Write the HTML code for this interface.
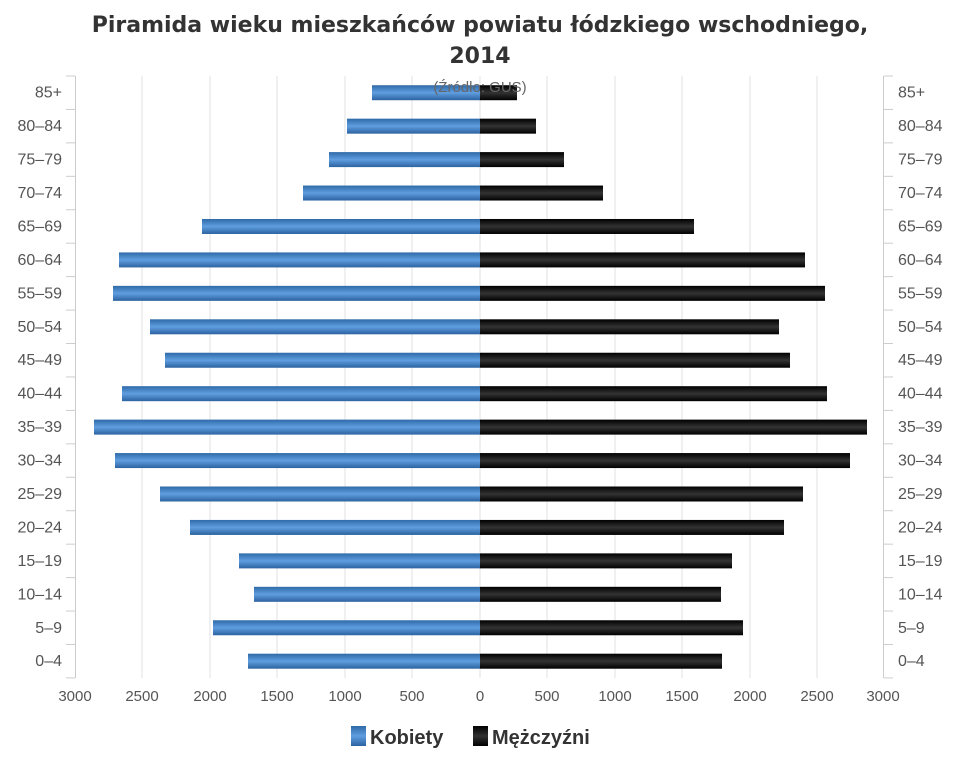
<!DOCTYPE html>
<html><head><meta charset="utf-8"><style>
body{margin:0;background:#fff}
svg{display:block;font-family:"Liberation Sans","DejaVu Sans",sans-serif}
</style></head><body>
<svg width="960" height="768" viewBox="0 0 960 768" xmlns="http://www.w3.org/2000/svg">
<defs>
<linearGradient id="b" x1="0" y1="0" x2="0" y2="1"><stop offset="0" stop-color="#2f6aa8"/><stop offset="0.5" stop-color="#5f9ee0"/><stop offset="1" stop-color="#2c62a0"/></linearGradient>
<linearGradient id="k" x1="0" y1="0" x2="0" y2="1"><stop offset="0" stop-color="#000"/><stop offset="0.5" stop-color="#333"/><stop offset="1" stop-color="#000"/></linearGradient>
</defs>
<text x="480" y="32" text-anchor="middle" font-size="22" font-weight="bold" fill="#333" font-family="DejaVu Sans, sans-serif">Piramida wieku mieszkańców powiatu łódzkiego wschodniego,</text>
<text x="480" y="63" text-anchor="middle" font-size="22" font-weight="bold" fill="#333" font-family="DejaVu Sans, sans-serif">2014</text>
<g stroke="#e2e2e2" stroke-width="1">
<line x1="142" y1="76" x2="142" y2="678"/><line x1="210" y1="76" x2="210" y2="678"/><line x1="277" y1="76" x2="277" y2="678"/><line x1="345" y1="76" x2="345" y2="678"/><line x1="412" y1="76" x2="412" y2="678"/><line x1="480" y1="76" x2="480" y2="678"/><line x1="547" y1="76" x2="547" y2="678"/><line x1="615" y1="76" x2="615" y2="678"/><line x1="682" y1="76" x2="682" y2="678"/><line x1="750" y1="76" x2="750" y2="678"/><line x1="817" y1="76" x2="817" y2="678"/>
</g>
<g stroke="#ccc" stroke-width="1">
<line x1="75.5" y1="76" x2="75.5" y2="678"/><line x1="883.5" y1="76" x2="883.5" y2="678"/>
</g>
<g id="ticks" stroke="#ccc"></g>
<g id="bars"></g>
<text x="480" y="92" text-anchor="middle" font-size="15" fill="#666">(Źródło: GUS)</text>
<g id="labels" font-size="16" fill="#555"></g>
<g font-size="15" fill="#555" text-anchor="middle">
<text x="75" y="701">3000</text><text x="142" y="701">2500</text><text x="210" y="701">2000</text><text x="277" y="701">1500</text><text x="345" y="701">1000</text><text x="412" y="701">500</text><text x="480" y="701">0</text><text x="547" y="701">500</text><text x="615" y="701">1000</text><text x="682" y="701">1500</text><text x="750" y="701">2000</text><text x="817" y="701">2500</text><text x="883" y="701">3000</text>
</g>
<rect x="351" y="726" width="15" height="20" fill="url(#b)"/>
<text x="370" y="744" font-size="20" font-weight="bold" fill="#333">Kobiety</text>
<rect x="473" y="726" width="15" height="20" fill="url(#k)"/>
<text x="492" y="744" font-size="20" font-weight="bold" fill="#333">Mężczyźni</text>
</svg>
<script>
var ns="http://www.w3.org/2000/svg";
var labs=["85+","80–84","75–79","70–74","65–69","60–64","55–59","50–54","45–49","40–44","35–39","30–34","25–29","20–24","15–19","10–14","5–9","0–4"];
var L=[372,347,329,303,202,119,113,150,165,122,94,115,160,190,239,254,213,248];
var R=[517,536,564,603,694,805,825,779,790,827,867,850,803,784,732,721,743,722];
var bars=document.getElementById("bars"),lg=document.getElementById("labels"),tk=document.getElementById("ticks");
function el(n,a,p){var e=document.createElementNS(ns,n);for(var k in a)e.setAttribute(k,a[k]);p.appendChild(e);return e;}
for(var i=0;i<=18;i++){var y=76+i*33.44;el("line",{x1:66,x2:75,y1:y,y2:y},tk);el("line",{x1:884,x2:893,y1:y,y2:y},tk);}
for(var i=0;i<18;i++){var c=76+(i+0.5)*33.44;
el("rect",{x:L[i],y:c-7.5,width:480-L[i],height:15,fill:"url(#b)"},bars);
el("rect",{x:480,y:c-7.5,width:R[i]-480,height:15,fill:"url(#k)"},bars);
var t=el("text",{x:62,y:c+5,"text-anchor":"end"},lg);t.textContent=labs[i];
t=el("text",{x:898,y:c+5},lg);t.textContent=labs[i];}
</script>
</body></html>
